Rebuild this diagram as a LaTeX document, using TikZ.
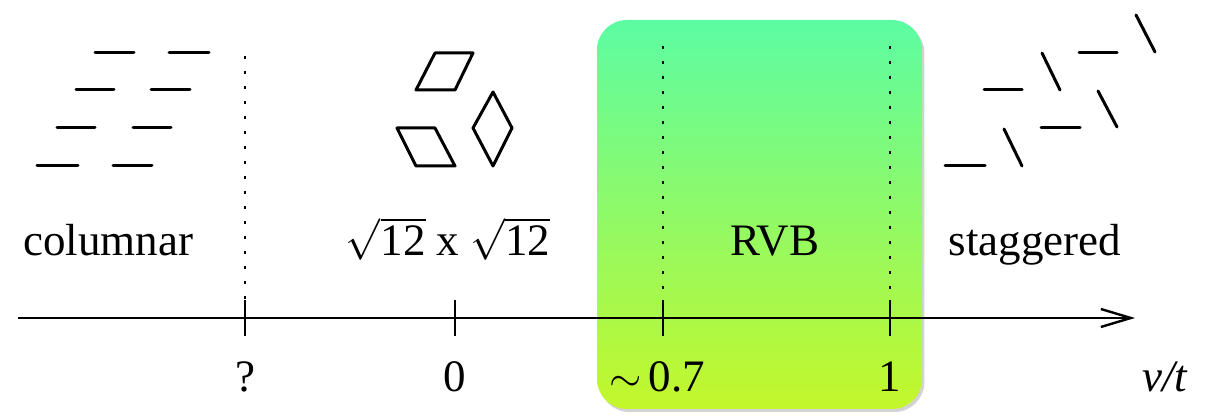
\documentclass[tikz,border=0pt]{standalone}
\usepackage{fontspec}
\setmainfont{Liberation Serif}
\usetikzlibrary{arrows.meta,shadows}
\begin{document}
\begin{tikzpicture}[x=0.5pt,y=-0.5pt,
  seg/.style={line width=1.5pt,line cap=round},
  dotline/.style={line width=1.4pt,dash pattern=on 1.5pt off 6pt},
  tick/.style={line width=1.2pt},
  lbl/.style={anchor=base,inner sep=0pt,font=\fontsize{22.5}{26}\selectfont},
  rvbbox/.style={rounded corners=15pt,top color=rvbtop,bottom color=rvbbot,draw=none,
     drop shadow={shadow xshift=1.2pt,shadow yshift=-1.5pt,opacity=0.35}}]
\definecolor{rvbtop}{RGB}{92,252,164}
\definecolor{rvbbot}{RGB}{196,247,42}
\useasboundingbox (0,0) rectangle (1219,415);
% green RVB region
\path[rvbbox] (597,20) rectangle (922,409);
% axis coordinates
\coordinate (a0) at (18,318);
\coordinate (a1) at (1135,318);
\coordinate (tq) at (245,318);
\coordinate (t0) at (455,318);
\coordinate (t7) at (663,318);
\coordinate (t1) at (890,318);
% dotted boundaries
\draw[dotline] (245,56) -- (tq);
\draw[dotline] (663,46) -- (t7);
\draw[dotline] (890,46) -- (t1);
% axis
\draw[line width=1.2pt,-{Straight Barb[length=15pt,width=9pt,line width=1.2pt]}] (a0) -- (a1);
\foreach \p in {tq,t0,t7,t1}{\draw[tick] ([yshift=9pt]\p) -- ([yshift=-9pt]\p);}
% tick labels
\node[lbl] (lq) at (245,392) {?};
\node[lbl] (l0) at (455,392) {0};
\node[lbl] (l7) at (657,392) {$\sim$\,0.7};
\node[lbl] (l1) at (890,392) {1};
\node[lbl] (lvt) at (1165,392) {\textit{v/t}};
% phase labels
\node[lbl] (col) at (108,256) {columnar};
\node[lbl] (sq) at (448,256) {$\sqrt{\mbox{12}}$ x $\sqrt{\mbox{12}}$};
\node[lbl] (rvb) at (775,256) {RVB};
\node[lbl] (stag) at (1035,256) {staggered};
% columnar dimers
\draw[seg] (95,53) -- (134,53);  \draw[seg] (169,53) -- (209,53);
\draw[seg] (76,90) -- (114,90);  \draw[seg] (151,90) -- (190,90);
\draw[seg] (57,128) -- (95,128); \draw[seg] (133,128) -- (171,128);
\draw[seg] (37,166) -- (78,166); \draw[seg] (113,166) -- (152,166);
% plaquette rhombi
\draw[seg,line join=round] (435,53) -- (473,53) -- (455,90) -- (416,90) -- cycle;
\draw[seg,line join=round] (397,128) -- (435,128) -- (455,166) -- (416,166) -- cycle;
\draw[seg,line join=round] (493,92) -- (512,128) -- (493,166) -- (473,128) -- cycle;
% staggered dimers
\draw[seg] (945,166) -- (985,166);
\draw[seg] (984,90) -- (1022,90);
\draw[seg] (1041,128) -- (1080,128);
\draw[seg] (1079,53) -- (1117,53);
\draw[seg] (1004,129) -- (1022,166);
\draw[seg] (1042,53) -- (1060,90);
\draw[seg] (1098,91) -- (1117,127);
\draw[seg] (1136,15) -- (1155,52);
\end{tikzpicture}
\end{document}
